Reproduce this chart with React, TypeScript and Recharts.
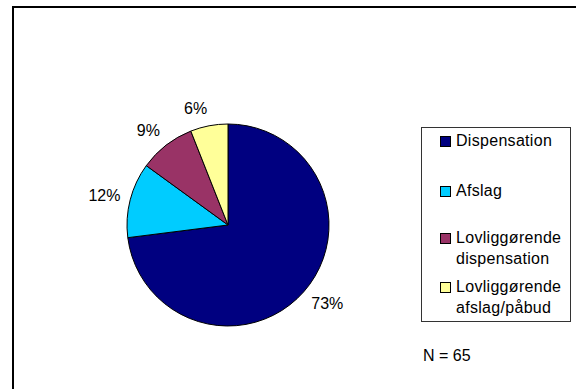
import { PieChart, Pie, Cell, Legend, Customized } from "recharts";

const categories = [
  "Dispensation",
  "Afslag",
  "Lovliggørende dispensation",
  "Lovliggørende afslag/påbud",
];
const legendLines = [
  ["Dispensation"],
  ["Afslag"],
  ["Lovliggørende", "dispensation"],
  ["Lovliggørende", "afslag/påbud"],
];
const shares = [73, 12, 9, 6];
const colors = ["#000080", "#00CCFF", "#993366", "#FFFF99"];

const data = categories.map((name, i) => ({ name, value: shares[i] }));

const FONT = "'Liberation Sans', Arial, sans-serif";
const RAD = Math.PI / 180;

function renderLabel(props: any) {
  const { cx, cy, midAngle, outerRadius, value } = props;
  const r = outerRadius + 10;
  const cos = Math.cos(-midAngle * RAD);
  const sin = Math.sin(-midAngle * RAD);
  const x = cx + r * cos;
  const y = cy + r * sin + sin * 8;
  const anchor = cos > 0.1 ? "start" : cos < -0.1 ? "end" : "middle";
  return (
    <text
      x={x}
      y={y}
      textAnchor={anchor}
      dominantBaseline="central"
      fontFamily={FONT}
      fontSize={16}
      fill="#000"
    >
      {`${value}%`}
    </text>
  );
}

function LegendBox() {
  const rows = [13, 63, 110, 159];
  return (
    <div
      style={{
        width: 150,
        height: 195,
        border: "1px solid #333",
        background: "#fff",
        position: "relative",
        fontFamily: FONT,
        fontSize: 16,
        color: "#000",
        boxSizing: "border-box",
      }}
    >
      {legendLines.map((lines, i) => (
        <div key={i}>
          <div
            style={{
              position: "absolute",
              left: 18,
              top: rows[i] - 5,
              width: 9,
              height: 9,
              background: colors[i],
              border: "1px solid #000",
            }}
          />
          {lines.map((t, j) => (
            <div
              key={j}
              style={{
                position: "absolute",
                left: 34,
                top: rows[i] - 10 + j * 21,
                lineHeight: "20px",
                whiteSpace: "nowrap",
                letterSpacing: 0.3,
              }}
            >
              {t}
            </div>
          ))}
        </div>
      ))}
    </div>
  );
}

export default function App() {
  return (
    <div style={{ position: "absolute", left: 0, top: 0, width: 576, height: 389, background: "#fff" }}>
      <PieChart width={576} height={389} margin={{ top: 0, right: 0, bottom: 0, left: 0 }}>
        <Customized
          component={() => (
            <g>
              <rect x={13} y={7} width={620} height={420} fill="none" stroke="#000" strokeWidth={2} />
              <text x={423} y={355} dominantBaseline="central" fontFamily={FONT} fontSize={16} fill="#000">
                N = 65
              </text>
            </g>
          )}
        />
        <Pie
          data={data}
          dataKey="value"
          nameKey="name"
          cx={228}
          cy={225}
          outerRadius={101}
          startAngle={90}
          endAngle={-270}
          stroke="#000"
          strokeWidth={1}
          label={renderLabel}
          labelLine={false}
          isAnimationActive={false}
        >
          {data.map((d, i) => (
            <Cell key={d.name} fill={colors[i]} />
          ))}
        </Pie>
        <Legend
          content={() => <LegendBox />}
          wrapperStyle={{ position: "absolute", left: 421, top: 127, width: 151, height: 196 }}
        />
      </PieChart>
    </div>
  );
}
